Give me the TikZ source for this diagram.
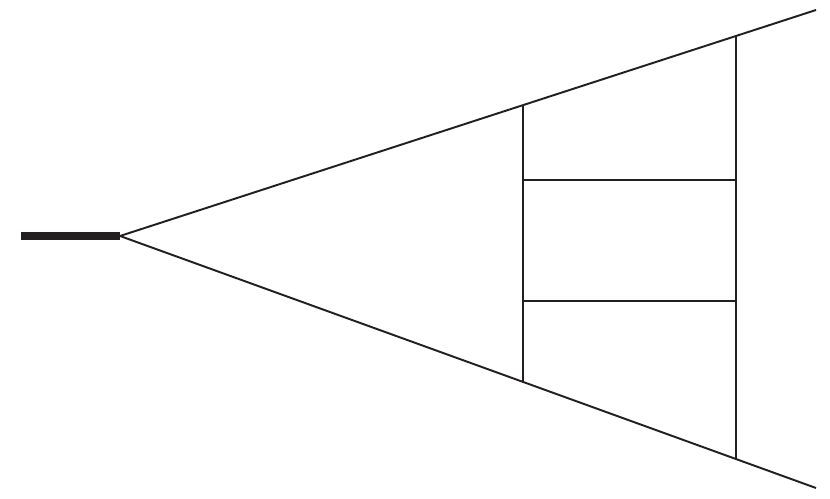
\documentclass[tikz,border=0pt]{standalone}
\definecolor{ink}{HTML}{231F20}
\begin{document}
\begin{tikzpicture}[x=0.02cm,y=-0.02cm,line width=1.1pt,draw=ink]
\tikzset{stem/.style = {line width=4.6pt,draw=ink}}
\useasboundingbox (0,0) rectangle (830,499);
% points
\coordinate (tail) at (21,236);
\coordinate (apex) at (120,236);
\coordinate (top) at (816,10);
\coordinate (bot) at (816,488);
\coordinate (a1) at (523,105);
\coordinate (a2) at (523,382);
\coordinate (b1) at (736,36);
\coordinate (b2) at (736,459);
\coordinate (c1) at (523,180);
\coordinate (c2) at (736,180);
\coordinate (d1) at (523,301);
\coordinate (d2) at (736,301);
% lines
\draw[stem] (tail) -- (apex);
\draw[line join=miter] (top) -- (apex) -- (bot);
\draw (a1) -- (a2);
\draw (b1) -- (b2);
\draw (c1) -- (c2);
\draw (d1) -- (d2);
\end{tikzpicture}
\end{document}
